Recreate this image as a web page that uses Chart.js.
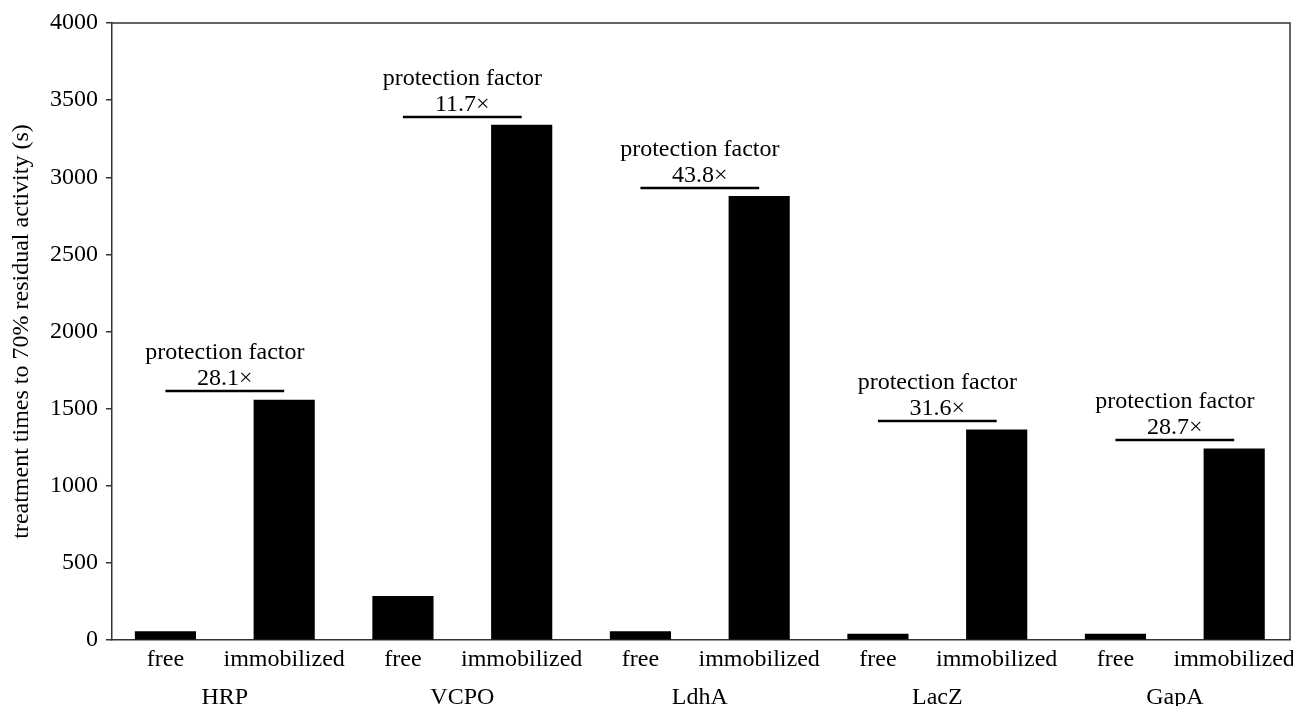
<!DOCTYPE html>
<html><head><meta charset="utf-8">
<script src="https://cdn.jsdelivr.net/npm/chart.js@4.4.1/dist/chart.umd.min.js"></script>
<style>html,body{margin:0;padding:0;background:#fff;overflow:hidden}</style>
</head><body>
<canvas id="c" width="1293" height="706"></canvas>
<script>
const enzymes = ['HRP', 'VCPO', 'LdhA', 'LacZ', 'GapA'];
const forms = ['free', 'immobilized'];
const freeTimes = [55, 283, 55, 38, 38];
const immobilizedTimes = [1555, 3339, 2876, 1362, 1240];
const protectionFactors = ['28.1×', '11.7×', '43.8×', '31.6×', '28.7×'];
const bracketLevels = [1614, 3391, 2930, 1420, 1297];
const yTickValues = [0, 500, 1000, 1500, 2000, 2500, 3000, 3500, 4000];
const yTitle = 'treatment times to 70% residual activity (s)';

const FONT = "'Liberation Serif', 'Times New Roman', serif";
Chart.defaults.font.family = FONT;
Chart.defaults.font.size = 24;
Chart.defaults.color = '#000';

const barData = [];
enzymes.forEach((e, k) => {
  barData.push({x: 2 * k, y: freeTimes[k]});
  barData.push({x: 2 * k + 1, y: immobilizedTimes[k]});
});
const bracketData = [];
enzymes.forEach((e, k) => {
  bracketData.push({x: 2 * k, y: bracketLevels[k]});
  bracketData.push({x: 2 * k + 1, y: bracketLevels[k]});
  bracketData.push({x: 2 * k + 1.5, y: null});
});

const AXIS = '#333';

const annotPlugin = {
  id: 'annot',
  afterDatasetsDraw(chart) {
    const {ctx} = chart;
    const x = chart.scales.x, y = chart.scales.y;
    ctx.save();
    ctx.font = '24px ' + FONT;
    ctx.fillStyle = '#000';
    ctx.textAlign = 'center';
    ctx.textBaseline = 'alphabetic';
    enzymes.forEach((e, k) => {
      const cx = x.getPixelForValue(2 * k + 0.5);
      const ly = y.getPixelForValue(bracketLevels[k]);
      ctx.fillText(protectionFactors[k], cx, ly - 6);
      ctx.fillText('protection factor', cx, ly - 32);
    });
    ctx.restore();
  },
  afterDraw(chart) {
    const {ctx, chartArea: a} = chart;
    ctx.save();
    ctx.strokeStyle = AXIS;
    ctx.lineWidth = 1.5;
    ctx.beginPath();
    ctx.moveTo(a.left, a.top);
    ctx.lineTo(a.right, a.top);
    ctx.lineTo(a.right, a.bottom);
    ctx.stroke();
    ctx.restore();
  }
};

new Chart(document.getElementById('c'), {
  type: 'bar',
  data: {
    datasets: [
      {
        type: 'bar',
        data: barData,
        backgroundColor: '#000',
        borderWidth: 0,
        barThickness: 60.5,
        order: 2
      },
      {
        type: 'line',
        data: bracketData,
        borderColor: '#000',
        borderWidth: 2.6,
        pointRadius: 0,
        spanGaps: false,
        fill: false,
        order: 1
      }
    ]
  },
  options: {
    responsive: false,
    animation: false,
    devicePixelRatio: 1,
    layout: {padding: {left: 0, right: 3, top: 23, bottom: 0}},
    plugins: {legend: {display: false}, tooltip: {enabled: false}},
    scales: {
      x: {
        type: 'linear',
        min: -0.45,
        max: 9.47,
        offset: false,
        grid: {display: true, drawOnChartArea: false, drawTicks: false},
        border: {display: true, color: AXIS, width: 1.5},
        afterBuildTicks(s) {
          const t = [];
          enzymes.forEach((e, k) => {
            t.push({value: 2 * k});
            t.push({value: 2 * k + 0.5});
            t.push({value: 2 * k + 1});
          });
          s.ticks = t;
        },
        ticks: {
          autoSkip: false,
          maxRotation: 0,
          minRotation: 0,
          padding: 1,
          font: {size: 24, lineHeight: 1.5833},
          color: '#000',
          callback(v) {
            if (Number.isInteger(v)) return forms[v % 2];
            return ['', enzymes[Math.round((v - 0.5) / 2)]];
          }
        },
        afterFit(s) { s.height = 66; s.paddingLeft = 0; s.paddingRight = 0; }
      },
      y: {
        type: 'linear',
        min: 0,
        max: 4000,
        afterBuildTicks(s) { s.ticks = yTickValues.map(v => ({value: v})); },
        grid: {display: true, drawOnChartArea: false, drawTicks: true, tickLength: 6, color: AXIS, lineWidth: 1.5},
        border: {display: true, color: AXIS, width: 1.5},
        ticks: {padding: 8, color: '#000', font: {size: 24}, callback: v => String(v)},
        title: {display: true, text: yTitle, color: '#000', font: {size: 24}, padding: {top: 7, bottom: 0}},
        afterFit(s) { s.width = 112; s.paddingTop = 0; s.paddingBottom = 0; }
      }
    }
  },
  plugins: [annotPlugin]
});
</script>
</body></html>
